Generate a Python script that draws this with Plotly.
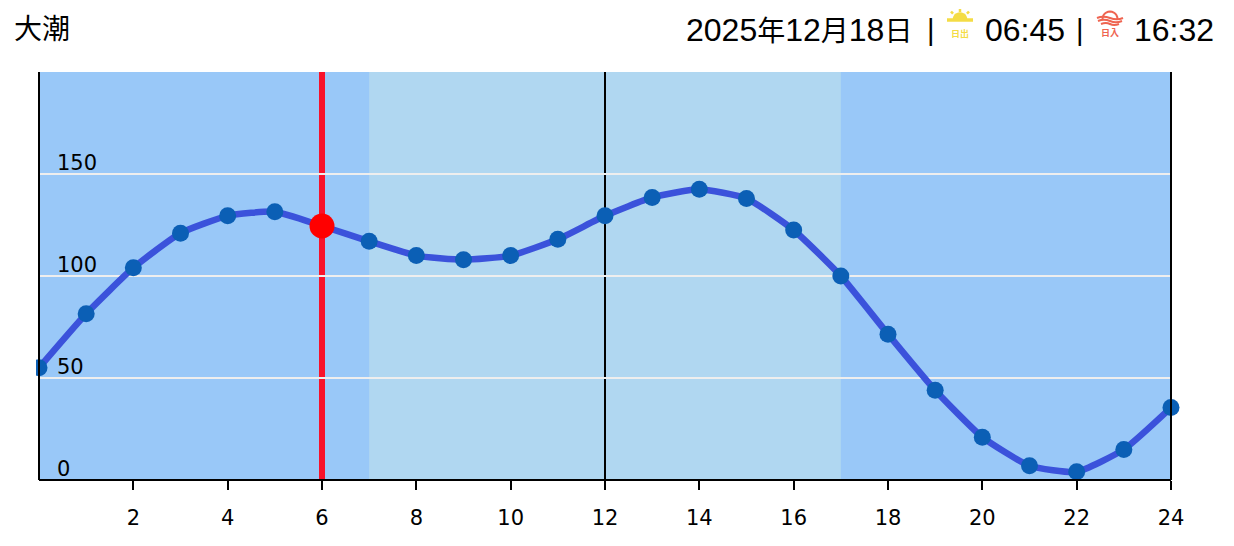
import math
import plotly.graph_objects as go

hours = list(range(25))
tide = [55, 81.5, 104, 121, 129.5, 131.5, 124.5, 117, 110, 108, 110, 118, 129.5, 138.5, 142.5, 138, 122.5, 100, 71.5, 44, 21, 7, 4, 15, 35.5]
now_hour = 6
now_tide = 124.5
day_start = 7
day_end = 17
x_ticks = list(range(2, 25, 2))
y_labels = [0, 50, 100, 150]
tide_name = "大潮"
date_text = "2025<span style='font-size:28px'>年</span>12<span style='font-size:28px'>月</span>18<span style='font-size:28px'>日</span>"
sunrise = "06:45"
sunset = "16:32"

W, H = 1234, 546
L, R, T, B = 39, 1171, 72, 480
FONT_UI = "Liberation Sans, Noto Sans CJK JP"
FONT_AX = "DejaVu Sans"
SUN = "#f4dc45"
SET = "#ef6450"

def px(x):
    return (x - L) / (R - L)

def py(y):
    return (B - y) / (B - T)

def path(cmds):
    out = []
    for c in cmds:
        if isinstance(c, str):
            out.append(c)
        else:
            out.append(f"{px(c[0]):.5f},{py(c[1]):.5f}")
    return " ".join(out)

def arc(cx, cy, r, steps=12, close=False):
    cmds = []
    for i in range(steps + 1):
        a = math.pi * (1 - i / steps)
        cmds += ["M" if i == 0 else "L", (cx + r * math.cos(a), cy - r * math.sin(a))]
    if close:
        cmds.append("Z")
    return path(cmds)

def stroke(d, color, w, fill=None):
    return dict(type="path", xref="paper", yref="paper", path=d, layer="above",
                line=dict(color=color, width=w), fillcolor=fill or "rgba(0,0,0,0)")

shapes = [
    dict(type="rect", xref="x", yref="paper", x0=day_start, x1=day_end, y0=0, y1=1,
         fillcolor="#b0d7f1", line_width=0, layer="below"),
    dict(type="line", xref="x", yref="paper", x0=now_hour, x1=now_hour, y0=0, y1=1,
         line=dict(color="#f8122a", width=6), layer="below"),
    dict(type="line", xref="x", yref="paper", x0=12, x1=12, y0=0, y1=1,
         line=dict(color="#000000", width=2), layer="below"),
    dict(type="rect", xref="paper", yref="y", x0=px(28), x1=px(36), y0=48, y1=62,
         fillcolor="#ffffff", line_width=0, layer="above"),
    # sunrise icon
    stroke(arc(960, 19.5, 7.3, close=True), SUN, 0, SUN),
    stroke(path(["M", (947, 20), "L", (973, 20)]), SUN, 3.5),
    stroke(path(["M", (960, 9), "L", (960, 12)]), SUN, 2.5),
    stroke(path(["M", (951, 11.5), "L", (953, 13.7)]), SUN, 2.5),
    stroke(path(["M", (969, 11.5), "L", (967, 13.7)]), SUN, 2.5),
    # sunset icon
    stroke(arc(1110, 19, 7.5), SET, 2),
    stroke(path(["M", (1097, 18), "Q", (1103, 15.5), (1110, 18), "Q", (1117, 20.5), (1123, 18)]), SET, 2),
    stroke(path(["M", (1098, 21), "Q", (1104, 18.5), (1110, 21), "Q", (1116, 23.5), (1122, 21)]), SET, 2),
    stroke(path(["M", (1101, 24), "Q", (1106, 22), (1110, 24), "Q", (1114, 26), (1119, 24)]), SET, 2),
]

def head(text, x, y=30, size=32, anchor="left", color="#000000", family=FONT_UI):
    return dict(text=text, xref="paper", yref="paper", x=px(x), y=py(y), showarrow=False,
                xanchor=anchor, yanchor="middle", font=dict(size=size, color=color, family=family))

annotations = [
    dict(text=str(v), xref="paper", yref="y", x=px(55), y=v, yshift=11, showarrow=False,
         xanchor="left", yanchor="middle", font=dict(size=21, color="#000000", family=FONT_AX))
    for v in y_labels
] + [
    head(tide_name, 12, size=28),
    head(date_text, 684),
    head("|", 925, size=29),
    head(sunrise, 983),
    head("|", 1074, size=29),
    head(sunset, 1132),
    head("<b>日出</b>", 960, y=33.5, size=9, anchor="center", color=SUN),
    head("<b>日入</b>", 1110, y=33.5, size=9, anchor="center", color=SET),
]

fig = go.Figure()
fig.add_trace(go.Scatter(x=[None], y=[None], mode="lines", showlegend=False, hoverinfo="skip"))
fig.add_trace(go.Scatter(
    x=hours, y=tide, yaxis="y2", mode="lines+markers", cliponaxis=False, showlegend=False,
    line=dict(color="#3b52db", width=6.5, shape="spline", smoothing=0.5),
    marker=dict(color="#0b5fb5", size=17),
))
fig.add_trace(go.Scatter(
    x=[now_hour], y=[now_tide], yaxis="y2", mode="markers", cliponaxis=False, showlegend=False,
    marker=dict(color="#ff0000", size=25),
))
fig.update_layout(
    width=W, height=H, autosize=False,
    margin=dict(l=L, r=W - R, t=T, b=H - B, pad=0),
    paper_bgcolor="#ffffff", plot_bgcolor="#99c8f8",
    shapes=shapes, annotations=annotations,
    xaxis=dict(range=[0, 24], tickvals=x_ticks, ticks="outside", ticklen=9, tickwidth=2,
               tickcolor="#000000", showgrid=False, zeroline=False, showline=True,
               linecolor="#000000", linewidth=2, anchor="free", position=0,
               ticklabelstandoff=10,
               tickfont=dict(size=21, color="#000000", family=FONT_AX)),
    yaxis=dict(range=[0, 200], tickvals=[50, 100, 150, 200], showticklabels=False, ticks="",
               showgrid=True, gridcolor="#eeeeee", gridwidth=2, zeroline=False,
               showline=True, linecolor="#000000", linewidth=2,
               anchor="free", position=0),
    yaxis2=dict(range=[0, 200], overlaying="y", side="right", showticklabels=False, ticks="",
                showgrid=False, zeroline=False,
                showline=True, linecolor="#000000", linewidth=2,
                anchor="free", position=1),
)
fig.write_html("out.html", config=dict(displayModeBar=False),
               post_script="document.body.style.margin='0';")
